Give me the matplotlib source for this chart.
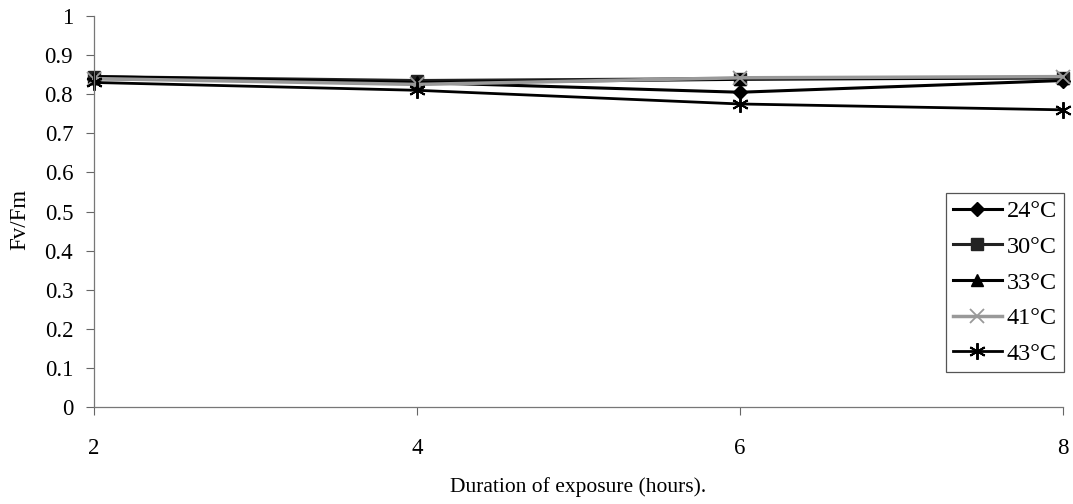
import matplotlib
matplotlib.use("Agg")
import matplotlib.pyplot as plt

plt.rcParams['font.family'] = ['Liberation Serif', 'DejaVu Serif']

# exposure time (hours)
hours = [2, 4, 6, 8]

# Fv/Fm per temperature
fv_24 = [0.84, 0.83, 0.805, 0.835]
fv_30 = [0.845, 0.835, 0.84, 0.842]
fv_33 = [0.845, 0.83, 0.838, 0.842]
fv_41 = [0.84, 0.825, 0.842, 0.845]
fv_43 = [0.83, 0.81, 0.775, 0.76]

labels = ['24°C', '30°C', '33°C', '41°C', '43°C']
yticks = [0, 0.1, 0.2, 0.3, 0.4, 0.5, 0.6, 0.7, 0.8, 0.9, 1]
ytick_labels = ['0', '0.1', '0.2', '0.3', '0.4', '0.5', '0.6', '0.7', '0.8', '0.9', '1']

W, H = 1073, 504
fig = plt.figure(figsize=(W / 100, H / 100), dpi=100)
ax = fig.add_axes([94 / W, 1 - 407 / H, (1063 - 94) / W, (407 - 16) / H])

ax.plot(hours, fv_24, color='black', lw=2.2, marker='D', ms=7, label=labels[0], clip_on=False)
ax.plot(hours, fv_30, color='#222222', lw=2.2, marker='s', ms=8, label=labels[1], clip_on=False)
ax.plot(hours, fv_33, color='black', lw=2.2, marker='^', ms=8, label=labels[2], clip_on=False)
ax.plot(hours, fv_41, color='#999999', lw=2.5, marker='x', ms=10, mew=1.3, label=labels[3], clip_on=False)
ax.plot(hours, fv_43, color='black', lw=2.0, marker=(6, 2, 0), ms=12, mew=1.4, label=labels[4], clip_on=False)

ax.set_xlim(2, 8)
ax.set_ylim(0, 1)
ax.set_xticks(hours)
ax.set_yticks(yticks)
ax.set_yticklabels(ytick_labels)
ax.tick_params(axis='both', labelsize=16.5, direction='out', length=6, width=0.8,
               colors='#666666', labelcolor='black')
ax.tick_params(axis='x', pad=16)
ax.tick_params(axis='y', pad=9)
ax.spines['top'].set_visible(False)
ax.spines['right'].set_visible(False)
for s in ['left', 'bottom']:
    ax.spines[s].set_color('#777777')
    ax.spines[s].set_linewidth(0.9)

ax.set_ylabel('Fv/Fm', fontsize=16.5)
ax.yaxis.set_label_coords(-0.066, 0.48)
ax.set_xlabel('Duration of exposure (hours).', fontsize=15.5)
ax.xaxis.set_label_coords(0.5, -0.178)

leg = ax.legend(loc='upper right', bbox_to_anchor=(1064 / W, 1 - 193 / H),
                bbox_transform=fig.transFigure, borderaxespad=0, fontsize=17.5,
                frameon=True, fancybox=False, edgecolor='#555555', framealpha=1,
                handlelength=2.0, handletextpad=0.2, labelspacing=0.56, borderpad=0.3)
leg.get_frame().set_linewidth(0.9)

fig.savefig('out.png', dpi=100)
